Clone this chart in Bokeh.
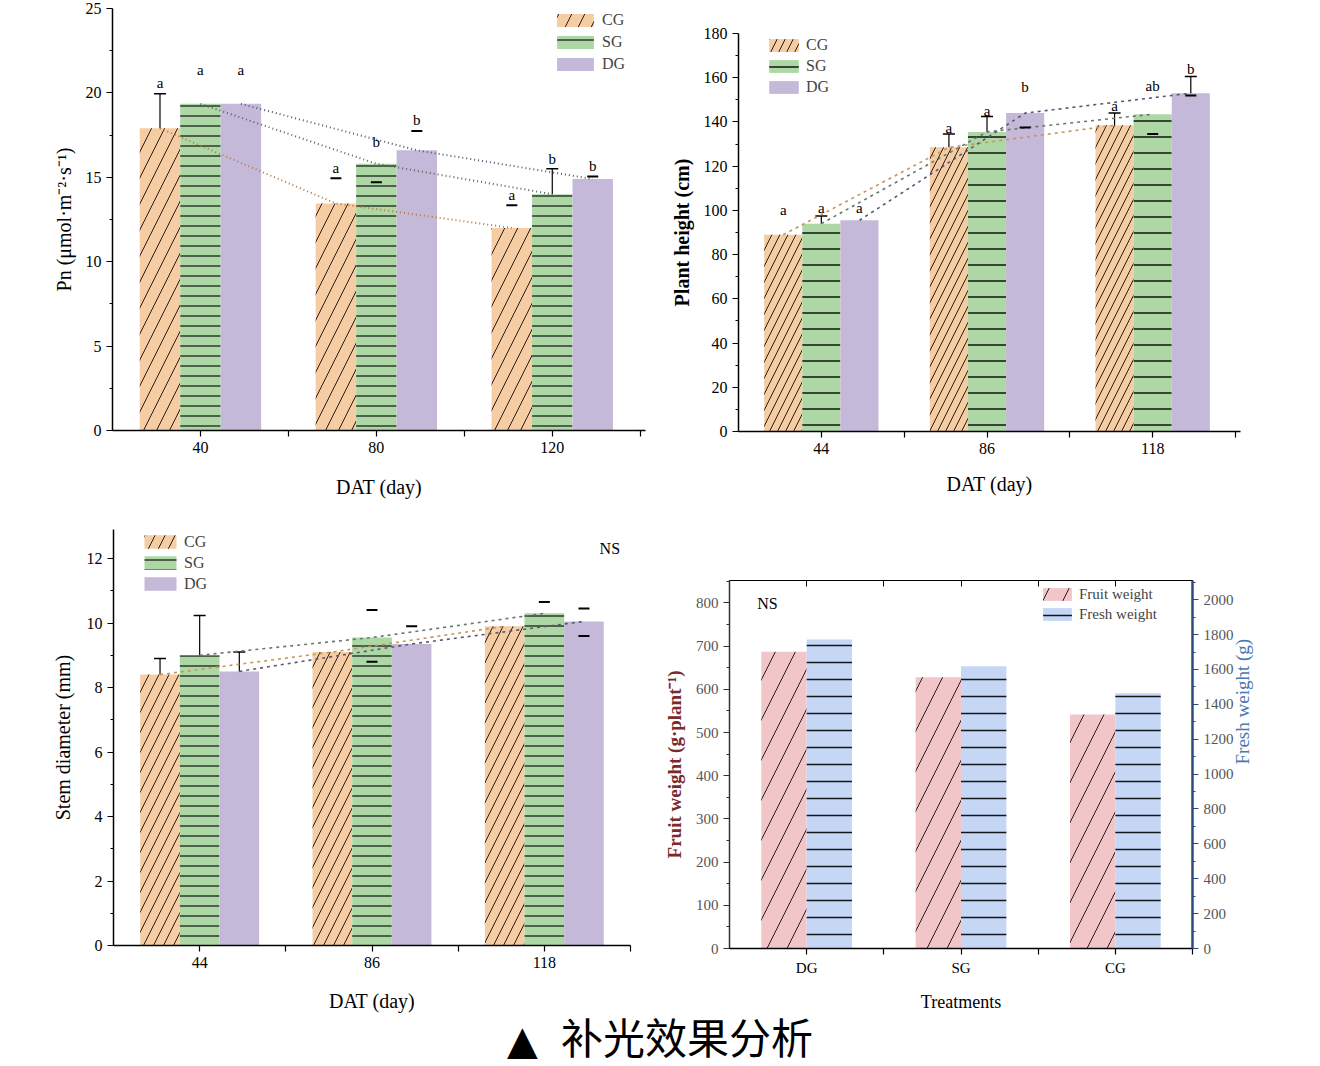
import math
import numpy as np
from bokeh.plotting import figure
from bokeh.models import (Range1d, LinearAxis, FixedTicker, Legend, LegendItem,
                          Whisker, TeeHead, ColumnDataSource, Div)
from bokeh.layouts import column, row
from bokeh.embed import file_html
from bokeh.resources import INLINE
from bokeh.core.properties import value

FONT = "Liberation Serif"

# ---------------- data ----------------
# Panel A: net photosynthetic rate
pn_days = ["40", "80", "120"]
pn_cg = [17.9, 13.45, 12.0]
pn_sg = [19.35, 15.8, 14.0]
pn_dg = [19.35, 16.6, 14.9]
pn_err_cg = [2.05, 0.0, 0.0]
pn_err_sg = [0.0, 0.0, 1.5]
pn_err_dg = [0.0, 0.0, 0.0]
pn_let_cg = ["a", "a", "a"]
pn_let_sg = ["a", "b", "b"]
pn_let_dg = ["a", "b", "b"]
pn_lety_cg = [20.1, 15.1, 13.5]
pn_lety_sg = [20.9, 16.6, 15.6]
pn_lety_dg = [20.9, 17.9, 15.2]
pn_caps_cg = [None, 14.95, 13.35]
pn_caps_sg = [None, 14.7, None]
pn_caps_dg = [None, 17.75, 15.05]
pn_yticks = [0, 5, 10, 15, 20, 25]

# Panel B: plant height
ph_days = ["44", "86", "118"]
ph_cg = [89.0, 128.5, 138.5]
ph_sg = [94.0, 135.5, 143.5]
ph_dg = [95.5, 144.0, 153.0]
ph_err_cg = [0.0, 6.0, 5.5]
ph_err_sg = [3.5, 7.0, 0.0]
ph_err_dg = [0.0, 0.0, 7.5]
ph_let_cg = ["a", "a", "a"]
ph_let_sg = ["a", "a", "ab"]
ph_let_dg = ["a", "b", "b"]
ph_lety_cg = [96.5, 133.5, 143.5]
ph_lety_sg = [97.5, 141.5, 152.5]
ph_lety_dg = [97.5, 152.0, 160.5]
ph_caps_cg = [None, None, None]
ph_caps_sg = [None, None, 134.5]
ph_caps_dg = [None, 137.5, 152.0]
ph_yticks = [0, 20, 40, 60, 80, 100, 120, 140, 160, 180]

# Panel C: stem diameter
sd_days = ["44", "86", "118"]
sd_cg = [8.4, 9.1, 9.9]
sd_sg = [9.0, 9.55, 10.3]
sd_dg = [8.5, 9.35, 10.05]
sd_err_cg = [0.5, 0.0, 0.0]
sd_err_sg = [1.23, 0.0, 0.0]
sd_err_dg = [0.6, 0.0, 0.0]
sd_caps_sg_hi = [None, 10.4, 10.65]
sd_caps_sg_lo = [None, 8.8, None]
sd_caps_dg_hi = [None, 9.9, 10.45]
sd_caps_dg_lo = [None, None, 9.6]
sd_yticks = [0, 2, 4, 6, 8, 10, 12]

# Panel D: fruit and fresh weight
treatments = ["DG", "SG", "CG"]
fruit_weight = [687, 628, 542]
fresh_weight = [1772, 1619, 1463]
fw_left_ticks = [0, 100, 200, 300, 400, 500, 600, 700, 800]
fw_right_ticks = [0, 200, 400, 600, 800, 1000, 1200, 1400, 1600, 1800, 2000]

caption_mark = "▲"
caption = "补光效果分析"

# ---------------- colours ----------------
C_CG = "#F6CCA2"
C_SG = "#ADD8A6"
C_DG = "#C5B9D9"
C_FRUIT = "#F2C6C8"
C_FRESH = "#C5D7F5"


def make_fig(w, h, xr, yr, bl, br, bt, bb):
    p = figure(width=w, height=h, x_range=Range1d(*xr), y_range=Range1d(*yr),
               output_backend="svg", toolbar_location=None,
               min_border_left=bl, min_border_right=br,
               min_border_top=bt, min_border_bottom=bb, frame_align=False)
    p.outline_line_color = None
    p.xgrid.visible = False
    p.ygrid.visible = False
    p.background_fill_color = "white"
    p.border_fill_color = "white"
    return p


def style_axis(ax, label_size="20px", tick_size="16px", standoff=8, bold=False,
               line_color="black", label_color="black", tick_label_color="black"):
    ax.axis_line_color = line_color
    ax.axis_line_width = 1.5
    ax.major_tick_line_color = line_color
    ax.minor_tick_line_color = line_color
    ax.major_tick_line_width = 1.2
    ax.minor_tick_line_width = 1.2
    ax.major_tick_in = 0
    ax.major_tick_out = 6
    ax.minor_tick_in = 0
    ax.minor_tick_out = 3
    ax.major_label_standoff = 5
    ax.major_label_text_font = FONT
    ax.major_label_text_font_size = tick_size
    ax.major_label_text_color = tick_label_color
    ax.axis_label_text_font = FONT
    ax.axis_label_text_font_size = label_size
    ax.axis_label_text_font_style = "bold" if bold else "normal"
    ax.axis_label_text_color = label_color
    ax.axis_label_standoff = standoff


def cat_xaxis(p, cats, label, standoff=19):
    idx = list(range(1, len(cats) + 1))
    p.xaxis.ticker = FixedTicker(ticks=idx, minor_ticks=[i + 0.5 for i in idx])
    p.xaxis.major_label_overrides = {i: c for i, c in zip(idx, cats)}
    p.xaxis.axis_label = label
    style_axis(p.xaxis, standoff=standoff)
    p.xaxis.minor_tick_out = 6


def y_axis(p, ticks, label, standoff=8, bold=False):
    step = ticks[1] - ticks[0]
    p.yaxis.ticker = FixedTicker(ticks=ticks, minor_ticks=[t + step / 2 for t in ticks])
    p.yaxis.axis_label = label
    style_axis(p.yaxis, standoff=standoff, bold=bold)


def draw_series(p, cats, vals, offset, width, color, hatch, hatch_scale, hatch_weight):
    idx = np.arange(1, len(cats) + 1)
    xs = idx + offset
    src = ColumnDataSource(dict(x=xs, top=vals))
    r = p.vbar(x="x", top="top", width=width, source=src, fill_color=color,
               line_color=None, hatch_pattern=hatch, hatch_color="black",
               hatch_alpha=0.85, hatch_scale=hatch_scale, hatch_weight=hatch_weight)
    return r, xs


def add_whiskers(p, xs, vals, errs):
    b, u, l = [], [], []
    for x, v, e in zip(xs, vals, errs):
        if e > 0:
            b.append(x)
            u.append(v + e)
            l.append(v - e)
    if b:
        src = ColumnDataSource(dict(base=b, upper=u, lower=l))
        w = Whisker(source=src, base="base", upper="upper", lower="lower",
                    line_color="black", line_width=1.2,
                    upper_head=TeeHead(size=12, line_color="black", line_width=1.5),
                    lower_head=TeeHead(size=12, line_color="black", line_width=1.5))
        p.add_layout(w)


def add_caps(p, xs, caps):
    cx = [x for x, c in zip(xs, caps) if c is not None]
    cy = [c for c in caps if c is not None]
    if cx:
        p.scatter(cx, cy, marker="dash", size=11, line_width=2, line_color="black")


def add_letters(p, xs, ys, letters):
    p.text(x=list(xs), y=ys, text=letters, text_align="center", text_baseline="bottom",
           text_font=value(FONT), text_font_size="15px", text_color="black")


def make_legend(p, renderers, labels, loc, gw, gh, lh, spacing, size="16px"):
    items = [LegendItem(label=l, renderers=[r]) for l, r in zip(labels, renderers)]
    lg = Legend(items=items, location=loc, glyph_width=gw, glyph_height=gh,
                label_height=lh, spacing=spacing, padding=0, margin=0,
                label_standoff=4, border_line_color=None, background_fill_alpha=0,
                label_text_font=FONT, label_text_font_size=size)
    p.add_layout(lg)


def grouped(p, cats, series, dash, trend_colors, trend_width):
    rs, xs_all = [], []
    for j, (vals, col, hat, sc, wt) in enumerate(series):
        r, xs = draw_series(p, cats, vals, (j - 1) * W, W, col, hat, sc, wt)
        rs.append(r)
        xs_all.append(xs)
    for xs, (vals, *_), c in zip(xs_all, series, trend_colors):
        p.line(xs, vals, line_dash=dash, line_color=c, line_width=trend_width)
    return rs, xs_all


W = 0.23

# ---------------- Panel A ----------------
p1 = make_fig(660, 500, (0.5, 3.53), (0, 25), 112, 15, 8, 69)
cat_xaxis(p1, pn_days, "DAT (day)", standoff=20)
y_axis(p1, pn_yticks, "Pn (μmol·m⁻²·s⁻¹)", standoff=8)
rs, xsA = grouped(p1, pn_days,
                  [(pn_cg, C_CG, "/", 26, 1.0), (pn_sg, C_SG, "-", 10, 1.3),
                   (pn_dg, C_DG, " ", 10, 1.0)],
                  "1 3", ["#B9783E", "#55685A", "#5C5676"], 2)
for xs, vals, errs in zip(xsA, [pn_cg, pn_sg, pn_dg], [pn_err_cg, pn_err_sg, pn_err_dg]):
    add_whiskers(p1, xs, vals, errs)
for xs, caps in zip(xsA, [pn_caps_cg, pn_caps_sg, pn_caps_dg]):
    add_caps(p1, xs, caps)
for xs, ly, lt in zip(xsA, [pn_lety_cg, pn_lety_sg, pn_lety_dg], [pn_let_cg, pn_let_sg, pn_let_dg]):
    add_letters(p1, xs, ly, lt)
make_legend(p1, rs, ["CG", "SG", "DG"], (440, 356), 46, 16, 20, 2)

# ---------------- Panel B ----------------
p2 = make_fig(660, 500, (0.5, 3.53), (0, 180), 78, 80, 33, 69)
cat_xaxis(p2, ph_days, "DAT (day)", standoff=16)
y_axis(p2, ph_yticks, "Plant height (cm)", standoff=8, bold=True)
rs, xsB = grouped(p2, ph_days,
                  [(ph_cg, C_CG, "/", 16, 1.0), (ph_sg, C_SG, "-", 16, 1.6),
                   (ph_dg, C_DG, " ", 10, 1.0)],
                  "3 4", ["#C4965A", "#66786A", "#5C5676"], 1.6)
for xs, vals, errs in zip(xsB, [ph_cg, ph_sg, ph_dg], [ph_err_cg, ph_err_sg, ph_err_dg]):
    add_whiskers(p2, xs, vals, errs)
for xs, caps in zip(xsB, [ph_caps_cg, ph_caps_sg, ph_caps_dg]):
    add_caps(p2, xs, caps)
for xs, ly, lt in zip(xsB, [ph_lety_cg, ph_lety_sg, ph_lety_dg], [ph_let_cg, ph_let_sg, ph_let_dg]):
    add_letters(p2, xs, ly, lt)
make_legend(p2, rs, ["CG", "SG", "DG"], (27, 335), 37, 16, 19, 2)

# ---------------- Panel C ----------------
p3 = make_fig(660, 514, (0.5, 3.5), (0, 12.9), 113, 30, 29, 69)
cat_xaxis(p3, sd_days, "DAT (day)", standoff=19)
y_axis(p3, sd_yticks, "Stem diameter (mm)", standoff=10)
rs, xsC = grouped(p3, sd_days,
                  [(sd_cg, C_CG, "/", 20, 1.0), (sd_sg, C_SG, "-", 10, 1.3),
                   (sd_dg, C_DG, " ", 10, 1.0)],
                  "3 4", ["#C4965A", "#66786A", "#5C5676"], 1.6)
for xs, vals, errs in zip(xsC, [sd_cg, sd_sg, sd_dg], [sd_err_cg, sd_err_sg, sd_err_dg]):
    add_whiskers(p3, xs, vals, errs)
for xs, caps in zip([xsC[1], xsC[1], xsC[2], xsC[2]],
                    [sd_caps_sg_hi, sd_caps_sg_lo, sd_caps_dg_hi, sd_caps_dg_lo]):
    add_caps(p3, xs, caps)
p3.text(x=[3.38], y=[12.3], text=["NS"], text_align="center", text_baseline="middle",
        text_font=value(FONT), text_font_size="16px", text_color="black")
make_legend(p3, rs, ["CG", "SG", "DG"], (27, 352), 40, 17, 19, 2)

# ---------------- Panel D ----------------
p4 = make_fig(660, 514, (0.5, 3.5), (0, 852), 67, 128, 80, 57)
p4.outline_line_color = "black"
p4.outline_line_width = 1
p4.extra_y_ranges = {"fresh": Range1d(0, 2110)}
idx4 = list(range(1, len(treatments) + 1))
p4.xaxis.ticker = FixedTicker(ticks=idx4, minor_ticks=[i + 0.5 for i in idx4])
p4.xaxis.major_label_overrides = {i: c for i, c in zip(idx4, treatments)}
p4.xaxis.axis_label = "Treatments"
style_axis(p4.xaxis, label_size="18px", tick_size="15px", standoff=13)
p4.xaxis.minor_tick_out = 6
p4.yaxis.ticker = FixedTicker(ticks=fw_left_ticks,
                              minor_ticks=[t + 50 for t in fw_left_ticks])
p4.yaxis.axis_label = "Fruit weight (g·plant⁻¹)"
style_axis(p4.yaxis, label_size="19px", tick_size="15px", standoff=8, bold=True,
           line_color="#333333", label_color="#7A2A2A", tick_label_color="#555555")
top_ax = LinearAxis(ticker=FixedTicker(ticks=idx4, minor_ticks=[i + 0.5 for i in idx4]))
top_ax.major_label_text_font_size = "0px"
top_ax.major_label_text_alpha = 0
top_ax.major_tick_in = 6
top_ax.major_tick_out = 0
top_ax.minor_tick_in = 6
top_ax.minor_tick_out = 0
top_ax.axis_line_color = "black"
p4.add_layout(top_ax, "above")
right_ax = LinearAxis(y_range_name="fresh",
                      ticker=FixedTicker(ticks=fw_right_ticks,
                                         minor_ticks=[t + 100 for t in fw_right_ticks]),
                      axis_label="Fresh weight (g)")
style_axis(right_ax, label_size="19px", tick_size="15px", standoff=6,
           line_color="#2E4C7C", label_color="#4A78B0", tick_label_color="#555555")
right_ax.axis_line_width = 2.5
right_ax.axis_label_orientation = math.pi / 2
p4.add_layout(right_ax, "right")

xs_fruit = np.array(idx4) - 0.147
xs_fresh = np.array(idx4) + 0.147
r_fruit = p4.vbar(x=xs_fruit, top=fruit_weight, width=0.294, fill_color=C_FRUIT,
                  line_color=None, hatch_pattern="/", hatch_color="black",
                  hatch_alpha=0.85, hatch_scale=40, hatch_weight=1.0)
r_fresh = p4.vbar(x=xs_fresh, top=fresh_weight, width=0.294, y_range_name="fresh",
                  fill_color=C_FRESH, line_color=None, hatch_pattern="-",
                  hatch_color="black", hatch_alpha=0.9, hatch_scale=17,
                  hatch_weight=1.5)
p4.text(x=[0.68], y=[798], text=["NS"], text_align="left", text_baseline="middle",
        text_font=value(FONT), text_font_size="16px", text_color="black")
make_legend(p4, [r_fruit, r_fresh], ["Fruit weight", "Fresh weight"], (310, 325),
            36, 16, 18, 2, size="15px")

cap = Div(text=('<div style="width:1320px;height:52px;text-align:center;'
                'font-family:\'Liberation Sans\',\'Noto Sans CJK SC\';font-size:42px;'
                'line-height:46px;padding-top:3px;box-sizing:border-box;'
                'color:black;white-space:nowrap">'
                '<span style="font-family:\'DejaVu Sans\';font-size:40px">'
                + caption_mark + '</span>&nbsp;&nbsp;' + caption + '</div>'),
          width=1320, height=52, margin=0)

layout = column(row(p1, p2), row(p3, p4), cap)
open("out.html", "w").write(file_html(layout, INLINE))
